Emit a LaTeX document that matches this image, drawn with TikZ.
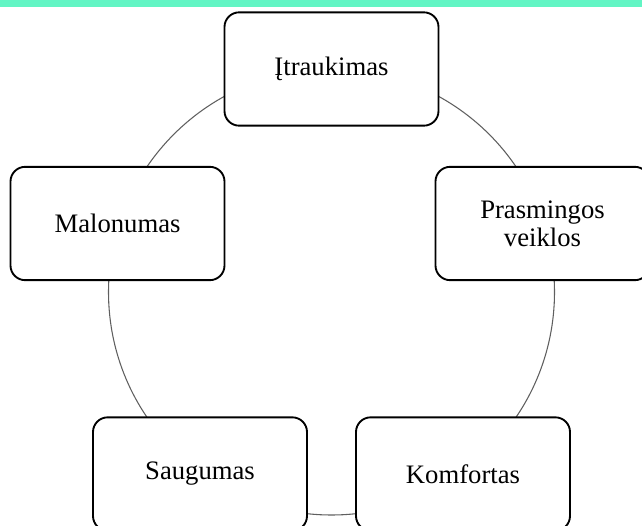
\documentclass[tikz,border=0pt]{standalone}
\usepackage{fontspec}
\setmainfont{Liberation Serif}
\definecolor{topbar}{RGB}{98,245,196}
\definecolor{ringgray}{RGB}{95,95,95}
\usepackage{tikz}

\begin{document}
\begin{tikzpicture}[x=0.75pt, y=-0.75pt,
    stage/.style={draw, line width=1.4pt, rounded corners=11pt, fill=white,
        minimum width=160.5pt, minimum height=85pt, align=center,
        font=\fontsize{20}{21}\selectfont}]
                \useasboundingbox (0,0) rectangle (642,525);
                \clip (0,0) rectangle (642,525);
                \fill[topbar] (0,0) rectangle (642,7);

                % ring behind the boxes
                \coordinate (mid) at (331.5,292);
                \draw[ringgray, line width=0.8pt] (mid) circle [radius=167.25pt];

                \node[stage] (itr) at (331.5,69) {Įtraukimas};
                \node[stage] (pra) at (542.5,223.5) {Prasmingos\\veiklos};
                \node[stage] (kom) at (463,474) {Komfortas};
                \node[stage] (sau) at (200,474) {Saugumas};
                \node[stage] (mal) at (117.5,223.5) {Malonumas};
            \end{tikzpicture}
\end{document}
